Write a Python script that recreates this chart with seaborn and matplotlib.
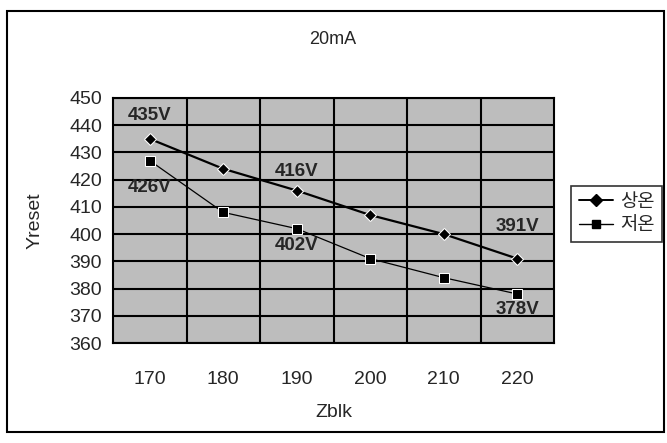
import numpy as np
import pandas as pd
import matplotlib
matplotlib.use("Agg")
import matplotlib.pyplot as plt
import seaborn as sns
from matplotlib.patches import Rectangle
from matplotlib.lines import Line2D

categories = ["170", "180", "190", "200", "210", "220"]
room_temp = [435, 424, 416, 407, 400, 391]   # 상온
low_temp = [427, 408, 402, 391, 384, 378]    # 저온
series_names = ["상온", "저온"]
label_room = {0: "435V", 2: "416V", 5: "391V"}
label_low = {0: "426V", 2: "402V", 5: "378V"}

sns.set_theme(style="white")
plt.rcParams['font.family'] = ['Liberation Sans', 'Noto Sans CJK KR']

df = pd.DataFrame({
    "pos": list(range(len(categories))) * 2,
    "value": room_temp + low_temp,
    "series": [series_names[0]] * len(categories) + [series_names[1]] * len(categories),
})

fig = plt.figure(figsize=(6.67, 4.43), dpi=100)
ax = fig.add_axes([113 / 667, 1 - 343 / 443, (554 - 113) / 667, (343 - 98) / 443])

# outer chart border
fig.patches.append(Rectangle((7 / 667, 1 - 432 / 443), (664 - 7) / 667, (432 - 11) / 443,
                             transform=fig.transFigure, fill=False, edgecolor="black",
                             linewidth=1.5, zorder=0))

ax.set_facecolor("#bdbdbd")
sns.lineplot(data=df, x="pos", y="value", hue="series", style="series",
             markers={"상온": "D", "저온": "s"}, dashes=False,
             palette={"상온": "black", "저온": "black"},
             markersize=7, ax=ax, legend=False)
lines = ax.get_lines()
lines[0].set_linewidth(1.6)
lines[0].set_markersize(6)
lines[1].set_linewidth(0.9)

ax.set_xlim(-0.5, len(categories) - 0.5)
ax.set_ylim(360, 450)
ax.set_xticks(range(len(categories)))
ax.set_xticklabels(categories)
ax.set_xticks(np.arange(0.5, len(categories) - 0.5, 1), minor=True)
ax.set_yticks(np.arange(360, 451, 10))
ax.grid(False)
ax.grid(True, which="minor", axis="x", color="black", linewidth=1.5)
ax.grid(True, which="major", axis="y", color="black", linewidth=1.5)
ax.tick_params(axis="both", which="both", length=0, labelsize=14)
ax.tick_params(axis="x", pad=20)
ax.tick_params(axis="y", pad=8)
for s in ax.spines.values():
    s.set_color("black")
    s.set_linewidth(1.5)

# label offsets in points (drawing style, kept apart from the data)
off_room = {0: 17, 2: 14, 5: 23}
off_low = {0: -19, 2: -12, 5: -11}
for i, t in label_room.items():
    ax.annotate(t, (i, room_temp[i]), xytext=(0, off_room[i]), textcoords="offset points",
                ha="center", va="center", fontsize=13.5, fontweight="bold")
for i, t in label_low.items():
    ax.annotate(t, (i, low_temp[i]), xytext=(0, off_low[i]), textcoords="offset points",
                ha="center", va="center", fontsize=13.5, fontweight="bold")

ax.set_xlabel("Zblk", fontsize=14, labelpad=12)
ax.set_ylabel("Yreset", fontsize=14, labelpad=18)
fig.text(333 / 667, 1 - 40 / 443, "20mA", ha="center", va="center", fontsize=13)

# legend
handles = [Line2D([], [], color="black", marker="D", markersize=6, linewidth=1.4),
           Line2D([], [], color="black", marker="s", markersize=6, linewidth=1.0)]
leg = fig.legend(handles, series_names, loc="center right",
                 bbox_to_anchor=(662 / 667, 1 - 214 / 443), frameon=True,
                 fontsize=13.5, handlelength=1.8, handletextpad=0.4,
                 borderpad=0.4, labelspacing=0.35, borderaxespad=0.0, fancybox=False)
leg.get_frame().set_edgecolor("black")
leg.get_frame().set_linewidth(1.2)

fig.savefig("out.png", dpi=100)
